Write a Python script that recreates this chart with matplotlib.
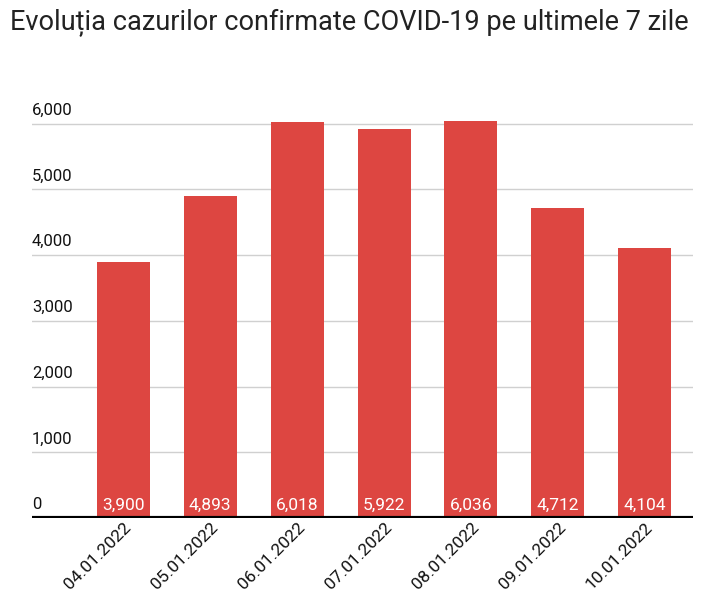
import matplotlib.pyplot as plt

plt.rcParams["font.family"] = ["Roboto", "DejaVu Sans"]

# Data
dates = ["04.01.2022", "05.01.2022", "06.01.2022", "07.01.2022",
         "08.01.2022", "09.01.2022", "10.01.2022"]
cases = [3900, 4893, 6018, 5922, 6036, 4712, 4104]
yticks = [0, 1000, 2000, 3000, 4000, 5000, 6000]

bar_color = "#DD4641"

fig = plt.figure(figsize=(7.09, 6.01), dpi=100)
ax = fig.add_axes([0.045, 0.138, 0.932, 0.711])

x = list(range(len(dates)))
ax.bar(x, cases, width=0.61, color=bar_color, zorder=3)

ax.set_xlim(-1.05, len(dates) - 0.45)
ax.set_ylim(0, 6500)

# gridlines
for v in yticks[1:]:
    ax.axhline(v, color="#d0d0d0", linewidth=1, zorder=1)
ax.axhline(0, color="black", linewidth=3, zorder=4)

# y labels above the gridlines
ax.set_yticks([])
for v in yticks:
    ax.text(0.0, v + 90, f"{v:,}", transform=ax.get_yaxis_transform(),
            ha="left", va="bottom", fontsize=12, color="#111111")

# value labels inside bars
for xi, v in zip(x, cases):
    ax.text(xi, 80, f"{v:,}", ha="center", va="bottom",
            fontsize=12.5, color="white", zorder=5)

ax.set_xticks(x)
ax.set_xticklabels(dates, rotation=45, ha="right", rotation_mode="anchor",
                   fontsize=12.5, color="#111111")
ax.tick_params(axis="x", length=0, pad=1)
for lbl in ax.get_xticklabels():
    lbl.set_x(lbl.get_position()[0])

for s in ax.spines.values():
    s.set_visible(False)

fig.text(0.492, 0.985, "Evoluția cazurilor confirmate COVID-19 pe ultimele 7 zile",
         ha="center", va="top", fontsize=19.5, color="#222222")

fig.savefig("out.png", dpi=100)
